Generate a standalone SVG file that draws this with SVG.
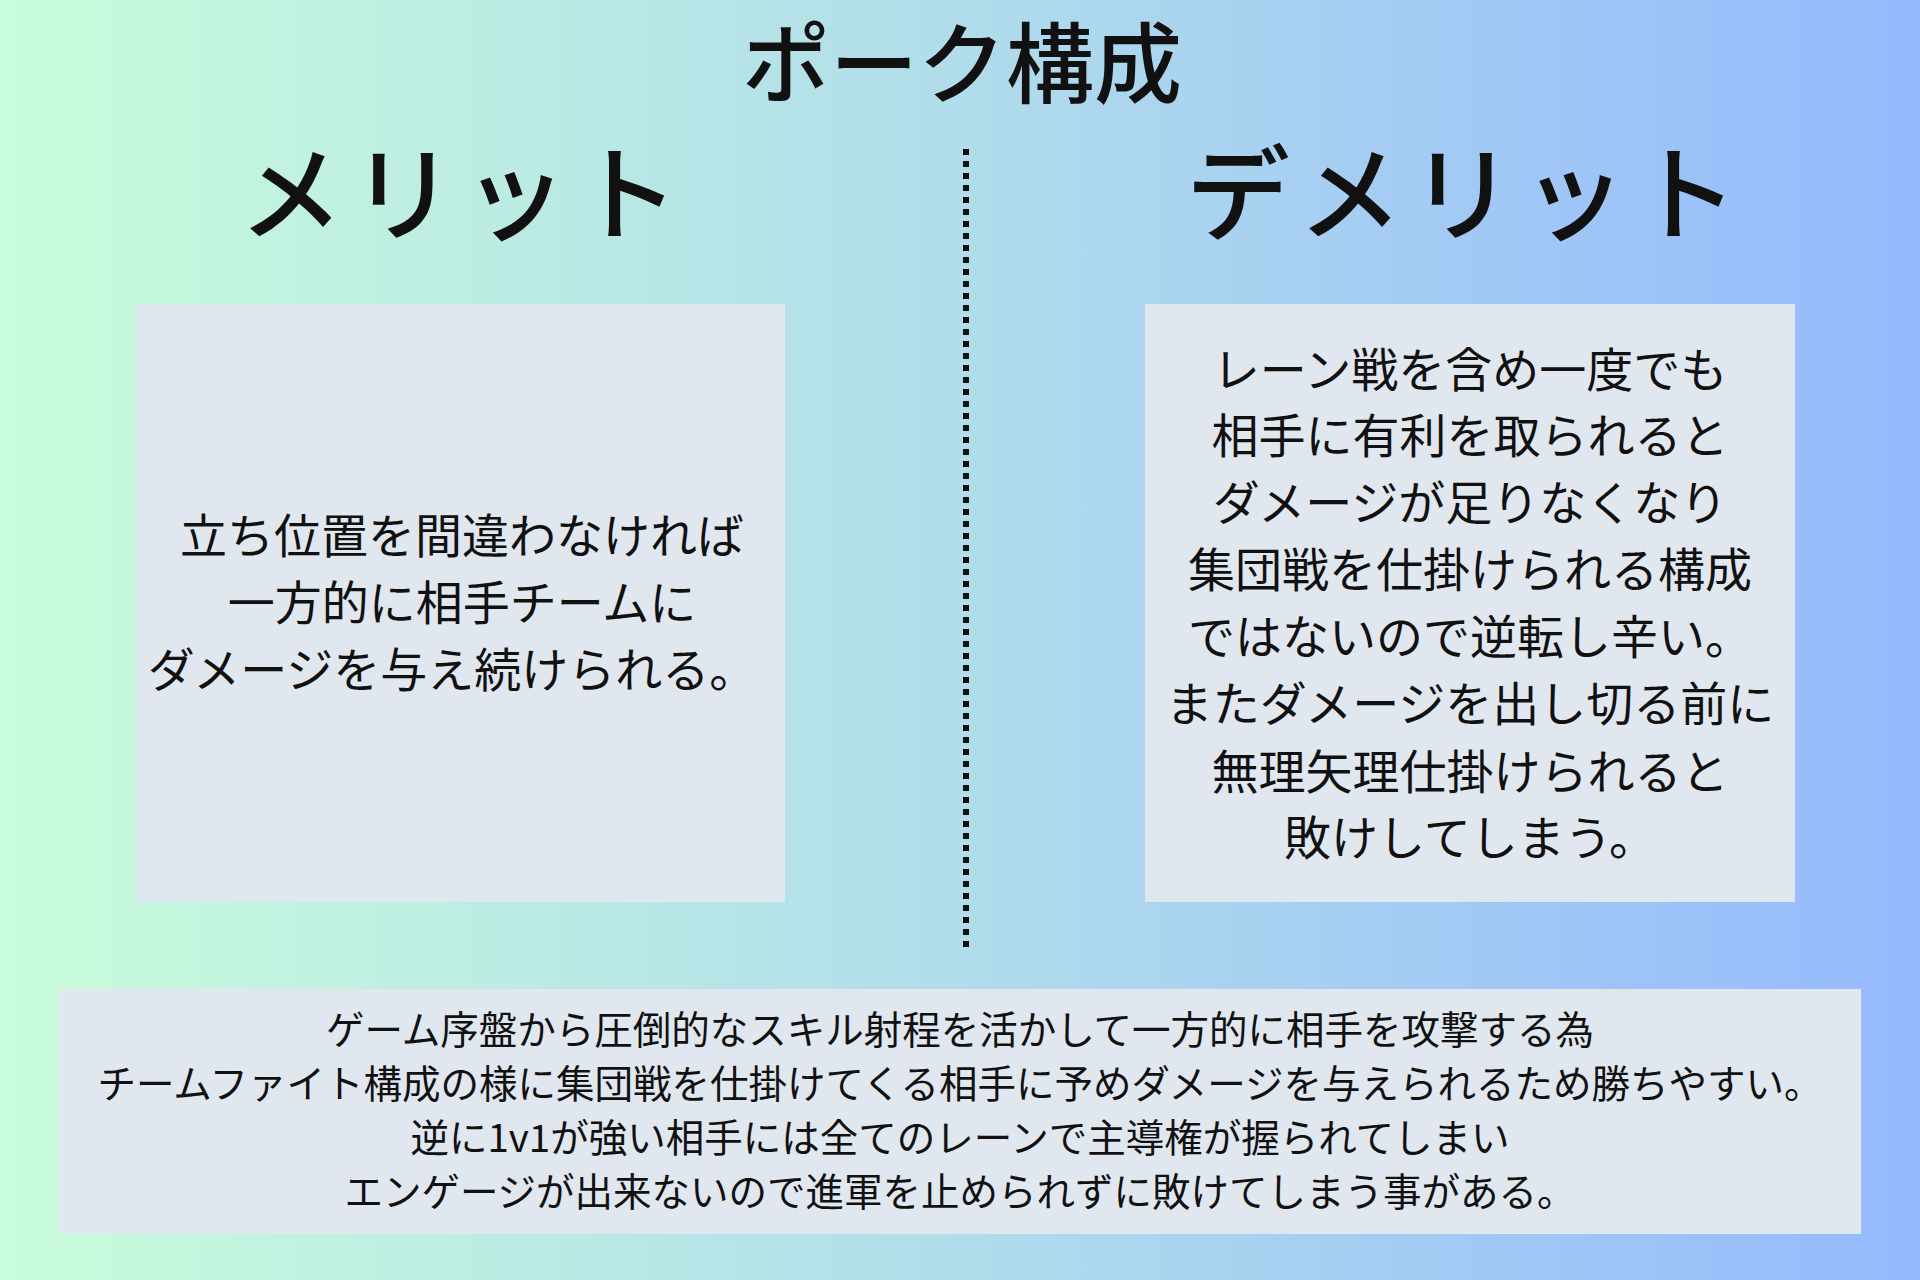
<svg xmlns="http://www.w3.org/2000/svg" width="1920" height="1280" viewBox="0 0 1920 1280">
<defs>
<linearGradient id="bg" x1="0" y1="0" x2="1" y2="0">
<stop offset="0" stop-color="#c9fcdb"/>
<stop offset="0.5" stop-color="#b1dceb"/>
<stop offset="1" stop-color="#95b9fd"/>
</linearGradient>
<style>
.h{font-family:"Noto Sans CJK JP",sans-serif;fill:#111;text-anchor:middle;font-weight:500}
.t{font-family:"Noto Sans CJK JP",sans-serif;fill:#111;text-anchor:middle;font-size:47px}
.b{font-family:"Noto Sans CJK JP",sans-serif;fill:#111;text-anchor:middle;font-size:38.5px}
.box{fill:#e0e7ef}
</style>
</defs>
<rect width="1920" height="1280" fill="url(#bg)"/>
<text class="h" x="962" y="96" font-size="88">ポーク構成</text>
<text class="h" x="463" y="233" font-size="104" letter-spacing="8">メリット</text>
<text class="h" x="1466" y="233" font-size="104" letter-spacing="8">デメリット</text>
<g id="connectors"><line x1="966" y1="149" x2="966" y2="953" stroke="#111" stroke-width="6" stroke-dasharray="6 6"/></g>
<g id="merit">
<rect class="box" x="137" y="304" width="648" height="598"/>
<text class="t" x="462" y="553">立ち位置を間違わなければ</text>
<text class="t" x="462" y="620">一方的に相手チームに</text>
<text class="t" x="452" y="687">ダメージを与え続けられる。</text>
</g>
<g id="demerit">
<rect class="box" x="1145" y="304" width="650" height="598"/>
<text class="t" x="1470" y="387">レーン戦を含め一度でも</text>
<text class="t" x="1470" y="453">相手に有利を取られると</text>
<text class="t" x="1470" y="520">ダメージが足りなくなり</text>
<text class="t" x="1470" y="587">集団戦を仕掛けられる構成</text>
<text class="t" x="1470" y="654">ではないので逆転し辛い。</text>
<text class="t" x="1470" y="721">またダメージを出し切る前に</text>
<text class="t" x="1470" y="789">無理矢理仕掛けられると</text>
<text class="t" x="1470" y="855">敗けしてしまう。</text>
</g>
<g id="summary">
<rect class="box" x="59" y="989" width="1802" height="245"/>
<text class="b" x="960" y="1044">ゲーム序盤から圧倒的なスキル射程を活かして一方的に相手を攻撃する為</text>
<text class="b" x="960" y="1098">チームファイト構成の様に集団戦を仕掛けてくる相手に予めダメージを与えられるため勝ちやすい。</text>
<text class="b" x="960" y="1152">逆に1v1が強い相手には全てのレーンで主導権が握られてしまい</text>
<text class="b" x="960" y="1206">エンゲージが出来ないので進軍を止められずに敗けてしまう事がある。</text>
</g>
</svg>
